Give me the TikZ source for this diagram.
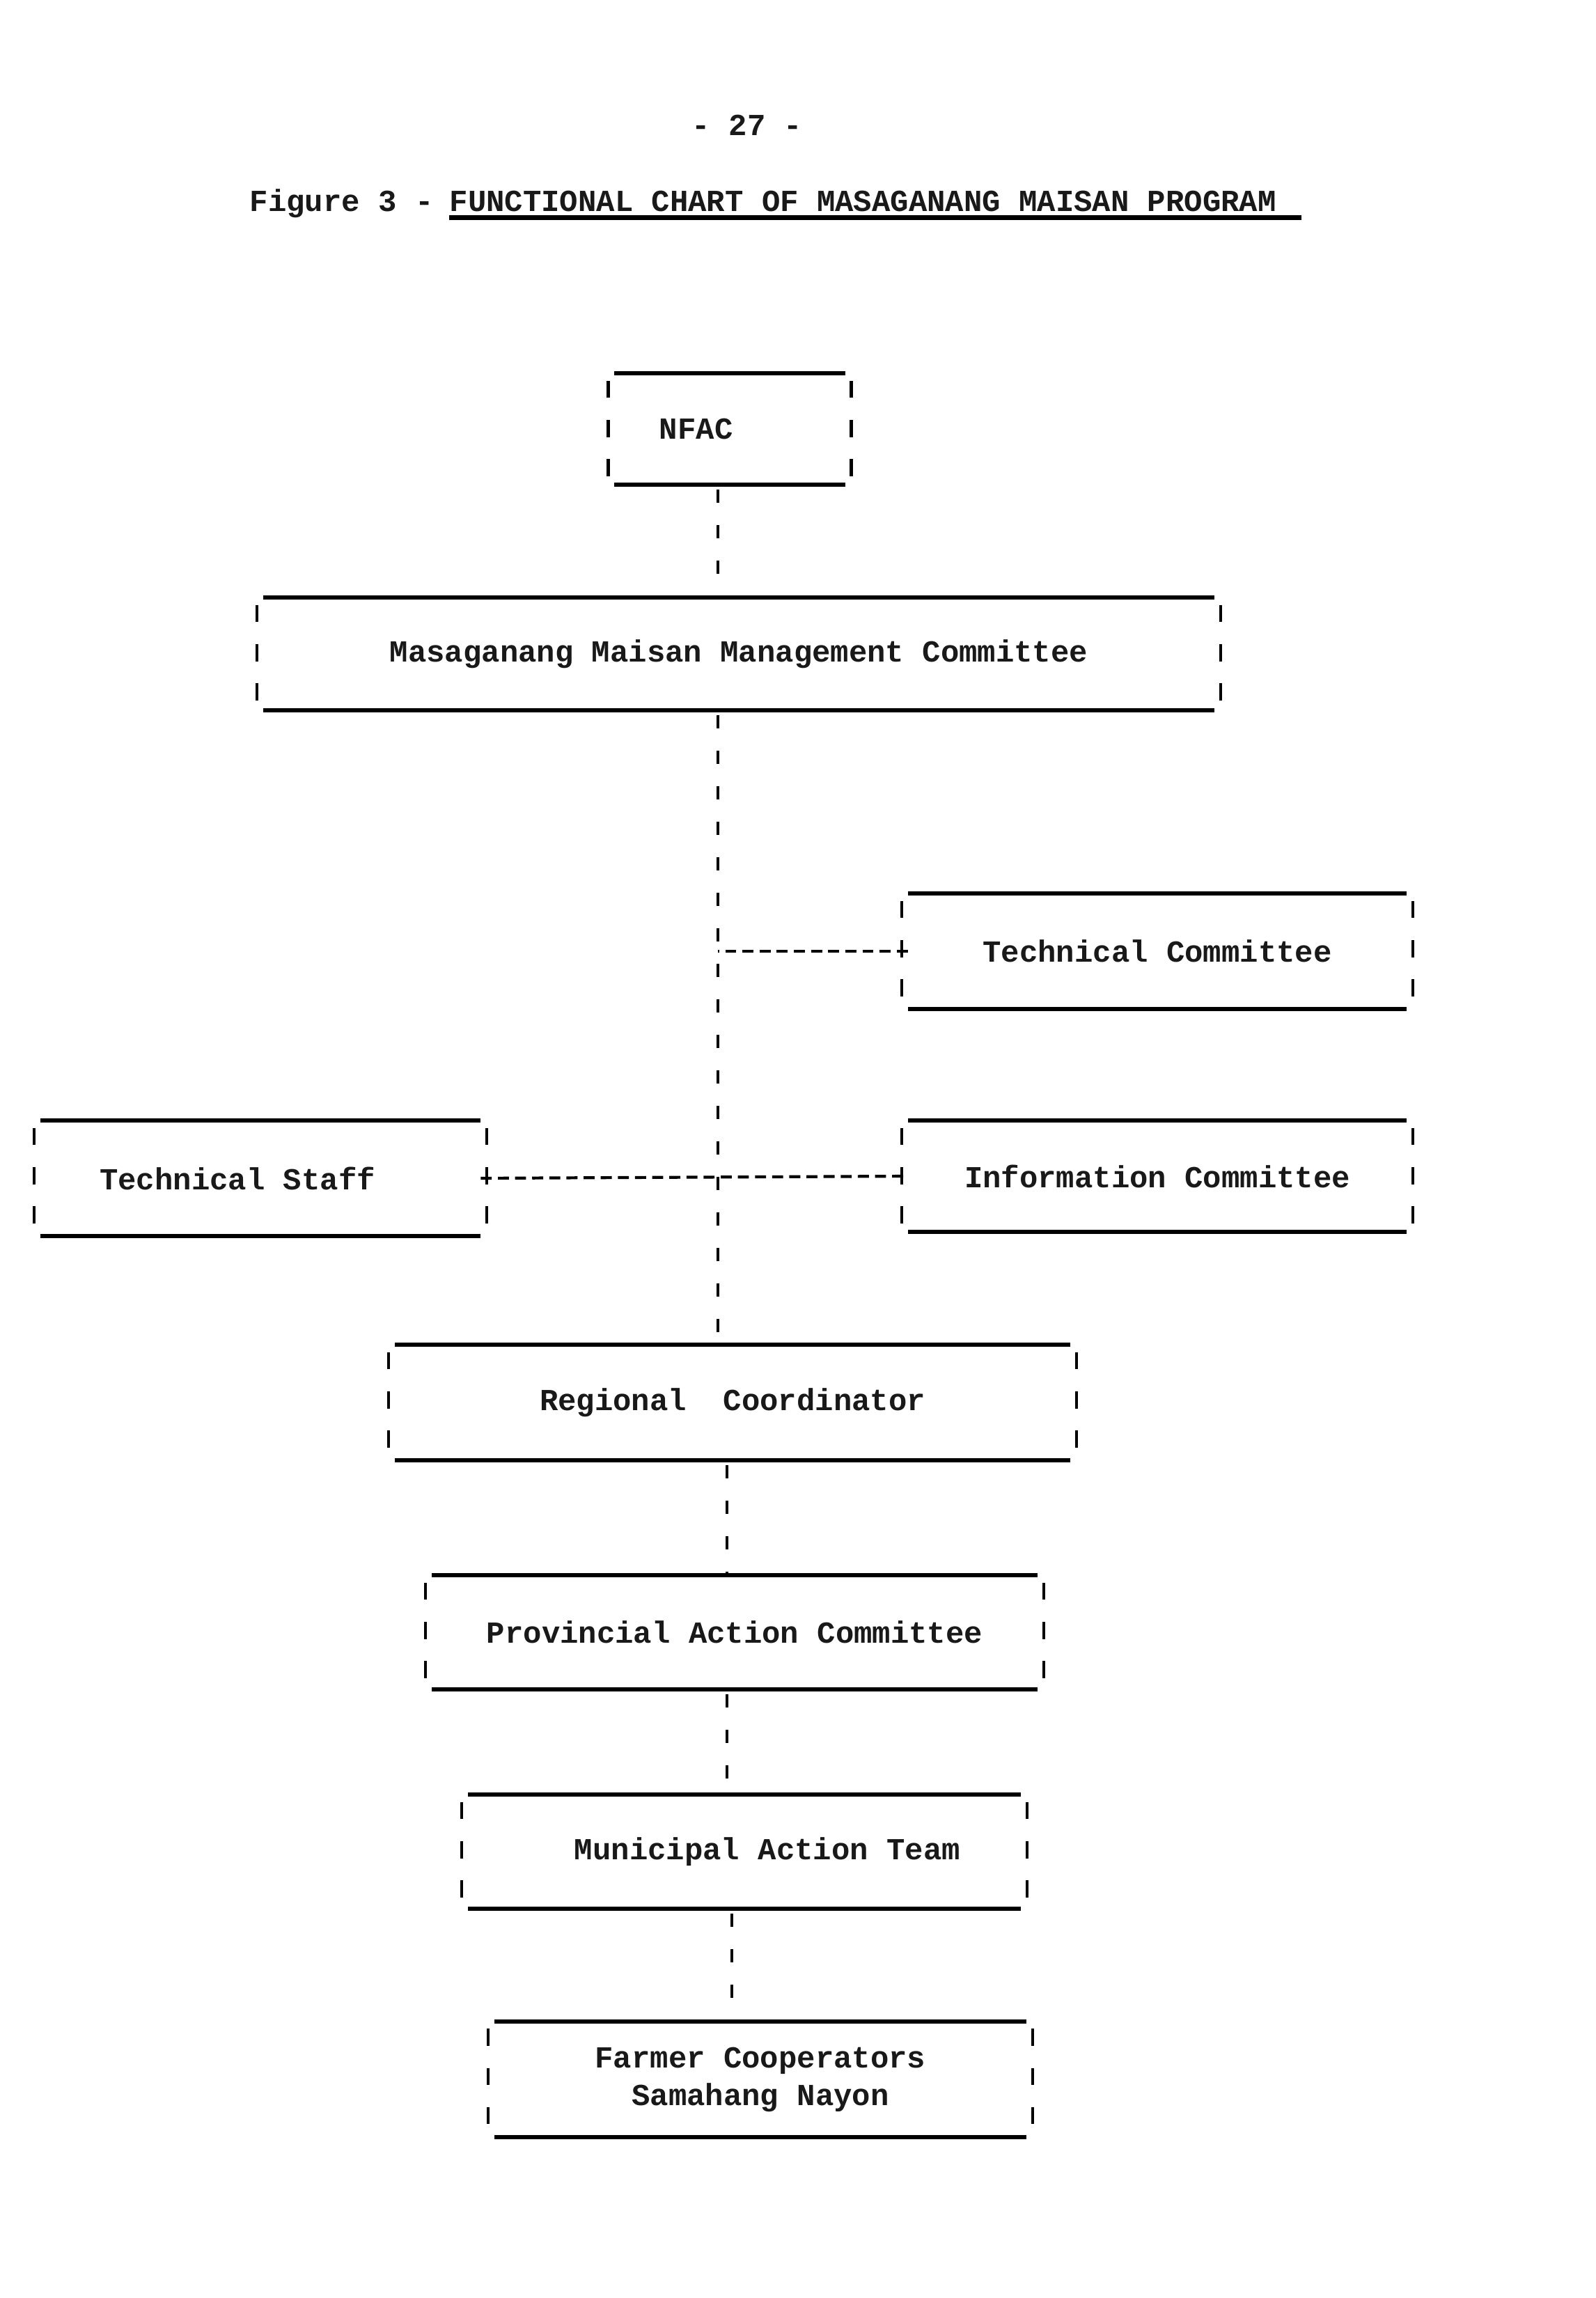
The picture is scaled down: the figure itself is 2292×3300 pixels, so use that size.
\documentclass[tikz,border=0pt]{standalone}
\usepackage{fontspec}
\setmonofont{Liberation Mono}
\begin{document}
\begin{tikzpicture}[x=0.01cm,y=-0.01cm,
  txt/.style={font=\ttfamily\bfseries\fontsize{12.5}{15.4}\selectfont, text=black!90},
  rule/.style={draw=black, line width=1.7pt},
  side/.style={draw=black, line width=1.2pt, dash pattern=on 7pt off 9pt, dash phase=-3pt},
  orgbox/.style={txt, inner sep=0pt, align=center,
    append after command={
      (\tikzlastnode.north west) edge[rule] (\tikzlastnode.north east)
      (\tikzlastnode.south west) edge[rule] (\tikzlastnode.south east)
      ([xshift=-2.5pt]\tikzlastnode.north west) edge[side] ([xshift=-2.5pt]\tikzlastnode.south west)
      ([xshift=2.5pt]\tikzlastnode.north east) edge[side] ([xshift=2.5pt]\tikzlastnode.south east)
    }},
  conn/.style={draw=black, line width=1.2pt, dash pattern=on 5.5pt off 9pt, dash phase=-2pt},
  hconn/.style={draw=black, line width=1.2pt, dash pattern=on 4.5pt off 2.5pt}
]
\useasboundingbox (0,0) rectangle (2292,3300);

% heading
\node[txt, anchor=base] (page) at (1073,195) {- 27 -};
\node[txt, anchor=base west, inner xsep=0pt] (fig) at (358,303) {Figure 3 -};
\node[txt, anchor=base west, inner xsep=0pt] (ttl) at (645,303) {FUNCTIONAL CHART OF MASAGANANG MAISAN PROGRAM};
\draw[line width=2pt] ([yshift=1pt]ttl.south west) -- ([yshift=1pt,xshift=10pt]ttl.south east);

% boxes
\node[orgbox, minimum width=3.30cm, minimum height=1.58cm] (nfac) at (1048,616) {NFAC\hspace{2.2em}};
\node[orgbox, minimum width=13.64cm, minimum height=1.60cm] (mgmt) at (1061,939) {Masaganang Maisan Management Committee};
\node[orgbox, minimum width=7.15cm, minimum height=1.64cm] (tcom) at (1662,1366) {Technical Committee};
\node[orgbox, minimum width=7.15cm, minimum height=1.58cm] (icom) at (1662,1689) {Information Committee};
\node[orgbox, minimum width=6.31cm, minimum height=1.64cm] (tstaff) at (374,1692) {Technical Staff\hspace{1.5em}};
\node[orgbox, minimum width=9.68cm, minimum height=1.64cm] (reg) at (1052,2014) {Regional\hspace{0.6em} Coordinator};
\node[orgbox, minimum width=8.69cm, minimum height=1.62cm] (prov) at (1055,2344) {Provincial Action Committee};
\node[orgbox, minimum width=7.92cm, minimum height=1.62cm] (mun) at (1069,2659) {\hspace{1.5em}Municipal Action Team};
\node[orgbox, minimum width=7.62cm, minimum height=1.65cm] (farm) at (1092,2986) {Farmer Cooperators\\Samahang Nayon};

% spines
\coordinate (sp) at (1031,0);
\coordinate (sp2) at (1044,0);

% connectors
\draw[conn] (nfac.south -| sp) -- (mgmt.north -| sp);
\draw[conn] (mgmt.south -| sp) -- (reg.north -| sp);
\draw[hconn] (tcom.west) -- (tcom.west -| sp);
\draw[hconn] (tstaff.east) -- (icom.west);
\draw[conn] (reg.south -| sp2) -- (prov.north -| sp2);
\draw[conn] (prov.south -| sp2) -- (mun.north -| sp2);
\draw[conn] ([xshift=2pt]mun.south -| sp2) -- ([xshift=2pt]farm.north -| sp2);
\end{tikzpicture}
\end{document}
